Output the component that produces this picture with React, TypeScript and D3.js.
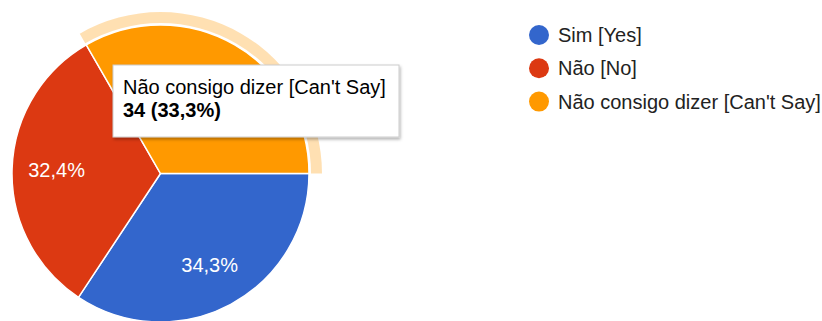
import React from "react";
import * as d3 from "d3";

const categories = ["Sim [Yes]", "Não [No]", "Não consigo dizer [Can't Say]"];
const counts = [35, 33, 34];
const colors = ["#3366cc", "#dc3912", "#ff9900"];
const highlighted = 2;

const W = 822;
const H = 321;
const FONT = "'Liberation Sans', Arial, sans-serif";
const FS = 20;

const fmtPct = (v: number) => (v * 100).toFixed(1).replace(".", ",") + "%";

export default function App() {
  const cx = 160.5;
  const cy = 173.5;
  const r = 148.5;
  const total = d3.sum(counts);
  const pie = d3
    .pie<number>()
    .sort(null)
    .startAngle(Math.PI / 2)
    .endAngle(Math.PI / 2 + 2 * Math.PI);
  const arcs = pie(counts);
  const arc = d3.arc<d3.PieArcDatum<number>>().innerRadius(0).outerRadius(r);
  const labelArc = d3.arc<d3.PieArcDatum<number>>().innerRadius(r * 0.7).outerRadius(r * 0.7);
  const halo = d3.arc<d3.PieArcDatum<number>>().innerRadius(r + 2).outerRadius(r + 13);
  const h = arcs[highlighted];

  return (
    <svg
      width={W}
      height={H}
      style={{ position: "absolute", left: 0, top: 0, fontFamily: FONT }}
    >
      <defs>
        <filter id="tipShadow" x="-10%" y="-20%" width="130%" height="150%">
          <feDropShadow dx="1" dy="2" stdDeviation="1.5" floodColor="#000" floodOpacity="0.3" />
        </filter>
      </defs>
      <rect width={W} height={H} fill="#fff" />
      <g transform={`translate(${cx},${cy})`}>
        <path d={halo(h) || ""} fill={colors[highlighted]} fillOpacity={0.3} />
        {arcs.map((a, i) => (
          <path key={i} d={arc(a) || ""} fill={colors[i]} stroke="#fff" strokeWidth={1.5} />
        ))}
        {arcs.map((a, i) => {
          if (i === highlighted) return null;
          const [lx, ly] = labelArc.centroid(a);
          return (
            <text
              key={i}
              x={lx}
              y={ly + 7}
              textAnchor="middle"
              fontSize={FS}
              fill="#fff"
            >
              {fmtPct(counts[i] / total)}
            </text>
          );
        })}
      </g>
      <g>
        {categories.map((c, i) => (
          <g key={i} transform={`translate(539,${35 + i * 33.3})`}>
            <circle r={10} fill={colors[i]} />
            <text x={19} y={7} fontSize={FS} fill="#222">
              {c}
            </text>
          </g>
        ))}
      </g>
      <g>
        <rect
          x={113}
          y={65}
          width={286}
          height={72}
          fill="#fff"
          stroke="#cccccc"
          strokeWidth={1}
          filter="url(#tipShadow)"
        />
        <text x={123} y={94} fontSize={FS} fill="#000">
          {categories[highlighted]}
        </text>
        <text x={123} y={117} fontSize={FS} fontWeight="bold" fill="#000">
          {`${counts[highlighted]} (${fmtPct(counts[highlighted] / total)})`}
        </text>
      </g>
    </svg>
  );
}
